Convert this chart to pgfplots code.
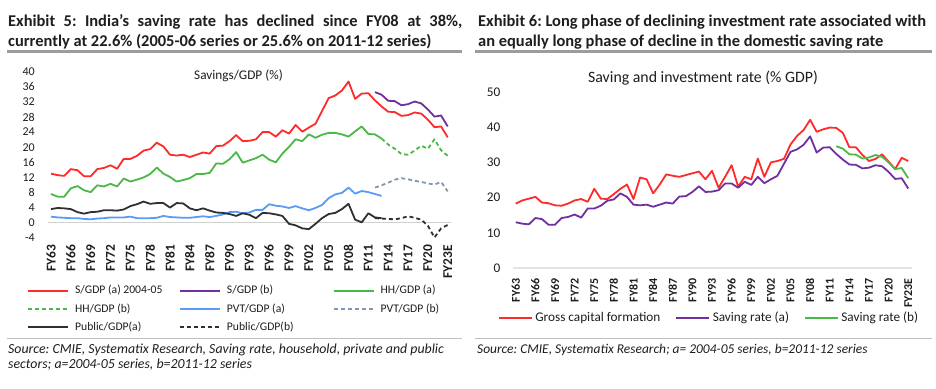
\documentclass[border=0pt]{standalone}
\usepackage{pgfplots}
\pgfplotsset{compat=1.18}
\usepackage{pgfplotstable}
\usepackage{fontspec}
\setmainfont{Carlito}
\definecolor{cred}{HTML}{FF2A2A}
\definecolor{cpurple}{HTML}{7030A0}
\definecolor{cgreen}{HTML}{4CB848}
\definecolor{cblue}{HTML}{5B9BF8}
\definecolor{cgray}{HTML}{8497B0}
\definecolor{cblack}{HTML}{303030}
\definecolor{caxis}{HTML}{D0D0D0}
\definecolor{caxisb}{HTML}{E3E3E3}
\definecolor{csep}{HTML}{9C9C9C}
\definecolor{csepb}{HTML}{BFBFBF}
\definecolor{ctext}{HTML}{1E1E1E}

\pgfplotstableread{
x sa hha pvta puba gcf
0 13.0 7.6 1.6 3.6 18.3
1 12.6 6.9 1.4 3.9 19.2
2 12.4 6.9 1.3 3.8 19.7
3 14.2 9.1 1.2 3.6 20.2
4 13.9 9.7 1.2 2.8 18.6
5 12.3 8.6 1.0 2.4 18.4
6 12.3 8.1 0.9 2.8 17.8
7 14.2 9.9 1.1 2.9 17.7
8 14.5 9.6 1.2 3.3 18.3
9 15.2 10.3 1.4 3.3 19.2
10 14.3 9.6 1.4 3.2 19.6
11 16.9 11.7 1.4 3.5 18.8
12 16.9 10.9 1.6 4.4 22.5
13 17.7 11.4 1.2 4.9 19.7
14 19.1 12.0 1.2 5.6 19.6
15 19.5 12.9 1.2 5.0 21.0
16 21.2 14.6 1.3 5.2 22.5
17 20.2 13.0 1.8 5.2 23.7
18 18.0 12.1 1.5 4.0 19.6
19 17.8 10.9 1.4 5.2 25.7
20 18.0 11.3 1.3 5.1 25.2
21 17.4 11.8 1.3 3.8 21.2
22 18.0 12.9 1.5 3.3 23.7
23 18.6 12.9 1.7 3.8 26.6
24 18.3 13.2 1.5 3.2 26.2
25 20.3 15.7 1.8 2.7 25.9
26 20.4 15.6 2.2 2.6 26.4
27 21.6 16.8 2.8 2.3 26.9
28 23.2 18.7 2.9 1.8 27.4
29 21.6 15.9 2.5 2.5 25.2
30 21.7 16.5 2.7 2.1 27.6
31 22.1 17.1 3.4 1.2 22.8
32 24.0 18.0 3.4 2.6 25.9
33 24.0 16.7 4.9 2.5 29.2
34 22.8 16.0 4.5 2.2 23.1
35 24.5 18.3 4.3 1.8 25.9
36 23.6 20.1 3.9 -0.3 25.2
37 25.9 22.1 4.4 -0.7 31.1
38 24.1 21.6 3.8 -1.5 25.9
39 25.2 23.4 3.3 -1.7 30.0
40 26.2 22.5 3.9 -0.3 30.4
41 29.6 23.3 4.7 1.2 31.0
42 33.0 23.8 6.5 2.3 35.1
43 33.7 23.8 7.5 2.6 37.5
44 35.0 23.4 7.9 3.6 39.2
45 37.4 22.8 9.3 5.0 42.1
46 32.8 24.2 7.7 0.8 38.7
47 34.2 25.5 8.4 0.1 39.4
48 34.3 23.5 8.1 2.5 39.9
49 32.4 23.4 7.6 1.4 39.8
50 30.8 22.3 7.1 1.2 38.4
51 29.4 nan nan nan 34.3
52 29.3 nan nan nan 34.3
53 28.3 nan nan nan 32.1
54 28.5 nan nan nan 30.4
55 29.2 nan nan nan 31.0
56 28.9 nan nan nan 32.3
57 27.3 nan nan nan 30.2
58 25.3 nan nan nan 28.1
59 25.5 nan nan nan 31.3
60 22.6 nan nan nan 30.4
}\tblA

\pgfplotstableread{
x sb hhb pvtb pubb
49 34.6 nan 9.3 1.2
50 33.9 22.3 9.9 1.1
51 32.3 20.7 10.6 1.0
52 32.2 19.6 11.4 0.9
53 31.1 18.2 11.8 1.2
54 31.4 18.0 11.5 1.7
55 32.1 19.1 11.1 1.3
56 31.6 20.4 10.8 0.8
57 30.0 19.6 10.4 -0.8
58 28.1 22.1 10.1 -3.9
59 28.4 19.2 10.8 -1.5
60 25.5 17.7 8.3 -0.6
}\tblB

\pgfplotsset{
  mychart/.style={
    scale only axis, xmin=-0.5, xmax=60.5,
    axis line style={draw=none}, major tick length=0pt, tick style={draw=none},
    xtick={0,3,...,60},
    xticklabels={FY63,FY66,FY69,FY72,FY75,FY78,FY81,FY84,FY87,FY90,FY93,FY96,FY99,FY02,FY05,FY08,FY11,FY14,FY17,FY20,FY23E},
    /pgf/number format/assume math mode=true,
    clip=false, unbounded coords=jump, no markers,
    legend cell align=left,
    every axis plot/.append style={line width=1.8bp, line join=round},
  },
  dashy/.style={dash pattern=on 4bp off 3bp},
}

\begin{document}
\frenchspacing
\begin{tikzpicture}[x=1bp,y=1bp]
\fill[white] (0,0) rectangle (936,388);
\useasboundingbox (0,0) rectangle (936,388);

% ---------- titles ----------
\node[anchor=base west, inner sep=0pt, font=\fontsize{16.5}{20}\selectfont\bfseries, text=ctext] at (8,361.3)
  {\makebox[454bp][s]{Exhibit 5: India’s saving rate has declined since FY08 at 38\%,}};
\node[anchor=base west, inner sep=0pt, font=\fontsize{16.5}{20}\selectfont\bfseries, text=ctext] at (8,341.3)
  {currently at 22.6\% (2005-06 series or 25.6\% on 2011-12 series)};
\node[anchor=base west, inner sep=0pt, font=\fontsize{16.5}{20}\selectfont\bfseries, text=ctext] at (478,361.3)
  {Exhibit 6: Long phase of declining investment rate associated with};
\node[anchor=base west, inner sep=0pt, font=\fontsize{16.5}{20}\selectfont\bfseries, text=ctext] at (478,341.3)
  {an equally long phase of decline in the domestic saving rate};
\draw[csep, line width=2.5bp] (7,336.3) -- (462,336.3);
\draw[csep, line width=2.5bp] (475,336.3) -- (932,336.3);
\draw[csepb, line width=1bp] (7,49.7) -- (462,49.7);
\draw[csepb, line width=1bp] (475,49.7) -- (932,49.7);

% ---------- sources ----------
\node[anchor=base west, inner sep=0pt, font=\fontsize{13.9}{16}\selectfont\itshape, text=ctext] at (8,34.7)
  {Source: CMIE, Systematix Research, Saving rate, household, private and public};
\node[anchor=base west, inner sep=0pt, font=\fontsize{13.9}{16}\selectfont\itshape, text=ctext] at (8,19.3)
  {sectors; a=2004-05 series, b=2011-12 series};
\node[anchor=base west, inner sep=0pt, font=\fontsize{13.5}{16}\selectfont\itshape, text=ctext] at (477,34.7)
  {Source: CMIE, Systematix Research; a= 2004-05 series, b=2011-12 series};

% ---------- chart titles ----------
\node[anchor=base, inner sep=0pt, font=\fontsize{13.3}{15}\selectfont, text=ctext] at (238.5,308.7) {Savings/GDP (\%)};
\node[anchor=base, inner sep=0pt, font=\fontsize{15.9}{18}\selectfont, text=ctext] at (703,305.3) {Saving and investment rate (\% GDP)};

% ---------- left chart ----------
\begin{axis}[mychart,
  at={(47.7bp,150.2bp)}, anchor=south west,
  width=403.3bp, height=166.1bp,
  ymin=-4, ymax=40, ytick={-4,0,...,40},
  xticklabel style={font=\fontsize{13.5}{15}\selectfont\bfseries, text=ctext, yshift=-7bp, rotate=90, anchor=east, inner sep=0pt},
  yticklabel style={font=\fontsize{12}{14}\selectfont, text=ctext, anchor=east, inner sep=0pt, xshift=-12.7bp},
  legend image code/.code={\draw[#1] (0bp,0bp) -- (40bp,0bp);},
  legend style={at={(-0.0513,-0.2824)}, anchor=north west, draw=none, fill=none,
    inner sep=0pt, outer sep=0pt, font=\fontsize{11.7}{13}\selectfont, text=ctext,
    legend columns=3, column sep=0pt, row sep=6.3bp,
    nodes={inner sep=0pt, text height=9bp, text depth=3bp},
    /tikz/every odd column/.append style={column sep=6.3bp}},
]
\draw[caxis, line width=1bp] (axis cs:-0.5,0) -- (axis cs:60.5,0);
\addplot[cred] table[x=x, y=sa] {\tblA};
\addlegendentry{\makebox[103.7bp][l]{S/GDP (a) 2004-05}}
\addplot[cpurple] table[x=x, y=sb] {\tblB};
\addlegendentry{\makebox[105.7bp][l]{S/GDP (b)}}
\addplot[cgreen] table[x=x, y=hha] {\tblA};
\addlegendentry{HH/GDP (a)}
\addplot[cgreen, dashy] table[x=x, y=hhb] {\tblB};
\addlegendentry{\makebox[103.7bp][l]{HH/GDP (b)}}
\addplot[cblue] table[x=x, y=pvta] {\tblA};
\addlegendentry{\makebox[105.7bp][l]{PVT/GDP (a)}}
\addplot[cgray, dashy] table[x=x, y=pvtb] {\tblB};
\addlegendentry{PVT/GDP (b)}
\addplot[cblack] table[x=x, y=puba] {\tblA};
\addlegendentry{\makebox[103.7bp][l]{Public/GDP(a)}}
\addplot[cblack, dashy] table[x=x, y=pubb] {\tblB};
\addlegendentry{\makebox[105.7bp][l]{Public/GDP(b)}}
\end{axis}

% ---------- right chart ----------
\begin{axis}[mychart,
  at={(512.5bp,120bp)}, anchor=south west,
  width=399bp, height=176bp,
  ymin=0, ymax=50, ytick={0,10,...,50},
  xticklabel style={font=\fontsize{12}{14}\selectfont\bfseries, text=ctext, yshift=-10bp, rotate=90, anchor=east, inner sep=0pt},
  yticklabel style={font=\fontsize{13.3}{15}\selectfont, text=ctext, anchor=east, inner sep=0pt, xshift=-12bp},
  legend image code/.code={\draw[#1] (0bp,0bp) -- (33bp,0bp);},
  legend style={at={(-0.0363,-0.2472)}, anchor=north west, draw=none, fill=none,
    inner sep=0pt, outer sep=0pt, font=\fontsize{13.3}{15}\selectfont, text=ctext,
    legend columns=3, column sep=0pt,
    nodes={inner sep=0pt, text height=10bp, text depth=3.5bp},
    /tikz/every odd column/.append style={column sep=2.5bp},
    /tikz/every even column/.append style={column sep=15bp}},
]
\draw[caxisb, line width=2.5bp] (axis cs:-0.5,0) -- (axis cs:60.5,0);
\addplot[cred] table[x=x, y=gcf] {\tblA};
\addlegendentry{Gross capital formation}
\addplot[cpurple] table[x=x, y=sa] {\tblA};
\addlegendentry{Saving rate (a)}
\addplot[cgreen] table[x=x, y=sb] {\tblB};
\addlegendentry{Saving rate (b)}
\end{axis}
\end{tikzpicture}
\end{document}
